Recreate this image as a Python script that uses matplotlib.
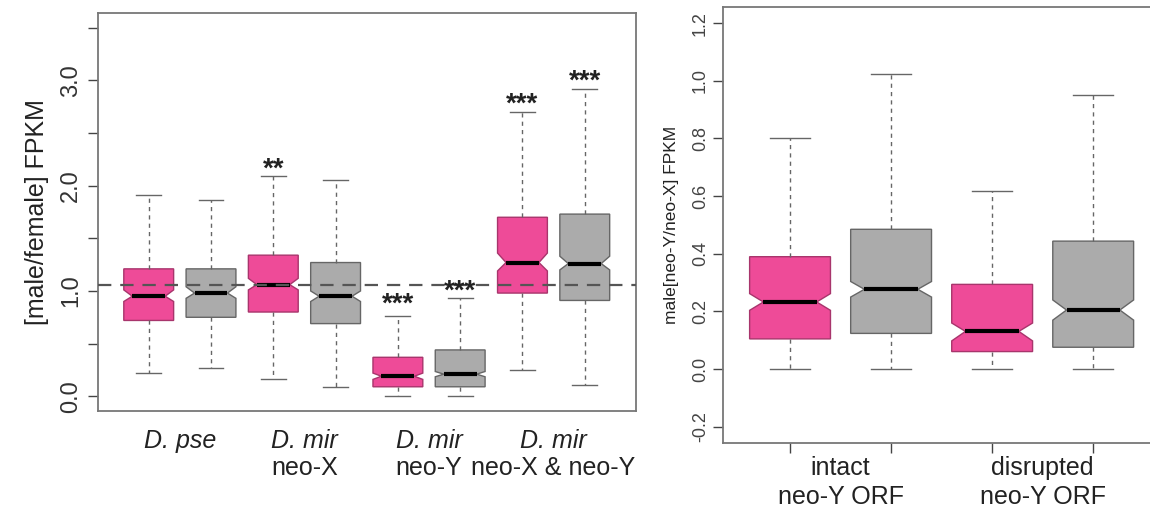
import matplotlib
matplotlib.use('Agg')
import matplotlib.pyplot as plt
import numpy as np

plt.rcParams['font.family'] = ['Liberation Sans', 'DejaVu Sans']

# 왼쪽 패널: [male/female] FPKM, 분홍/회색 쌍 4개
left_pos = [1, 2, 3, 4, 5, 6, 7, 8]
left_med = [0.95, 0.98, 1.06, 0.95, 0.19, 0.21, 1.27, 1.26]
left_q1 = [0.72, 0.75, 0.80, 0.69, 0.09, 0.09, 0.98, 0.91]
left_q3 = [1.21, 1.21, 1.34, 1.27, 0.37, 0.44, 1.70, 1.73]
left_lo = [0.22, 0.27, 0.16, 0.09, 0.0, 0.0, 0.25, 0.11]
left_hi = [1.91, 1.86, 2.09, 2.05, 0.76, 0.93, 2.70, 2.92]
left_cilo = [0.90, 0.93, 1.01, 0.90, 0.16, 0.185, 1.19, 1.20]
left_cihi = [1.01, 1.04, 1.12, 1.00, 0.22, 0.235, 1.36, 1.33]
left_ref = 1.06
left_groups = [('D. pse', ''), ('D. mir', 'neo-X'), ('D. mir', 'neo-Y'), ('D. mir', 'neo-X & neo-Y')]
star_pos = [3, 5, 6, 7, 8]
star_txt = ['**', '***', '***', '***', '***']
star_y = [2.086, 0.80, 0.924, 2.705, 2.924]

# 오른쪽 패널: male[neo-Y/neo-X] FPKM
right_pos = [1, 2, 3, 4]
right_med = [0.233, 0.277, 0.131, 0.205]
right_q1 = [0.105, 0.124, 0.061, 0.076]
right_q3 = [0.39, 0.485, 0.294, 0.444]
right_lo = [0.0, 0.0, 0.0, 0.0]
right_hi = [0.80, 1.025, 0.617, 0.951]
right_cilo = [0.204, 0.25, 0.098, 0.17]
right_cihi = [0.262, 0.304, 0.16, 0.24]
right_groups = ['intact\nneo-Y ORF', 'disrupted\nneo-Y ORF']

pink = '#EE4B98'
grey = '#ABABAB'
frame = '#777777'
BOXW = 0.8
WAIST = 0.33  # 노치 안쪽 반폭 (박스 폭 대비)


def make_stats(med, q1, q3, lo, hi, cilo, cihi):
    return [dict(med=m, q1=a, q3=b, whislo=l, whishi=h, cilo=c1, cihi=c2, fliers=[])
            for m, a, b, l, h, c1, c2 in zip(med, q1, q3, lo, hi, cilo, cihi)]


def draw_boxes(ax, stats, pos):
    bp = ax.bxp(stats, positions=pos, widths=BOXW, capwidths=BOXW / 2, shownotches=True,
                patch_artist=True, showfliers=False,
                whiskerprops=dict(color='#666666', lw=1, ls=(0, (3, 3))),
                capprops=dict(color='#666666', lw=1),
                medianprops=dict(color='black', lw=3, solid_capstyle='butt'))
    for i, (box, med, p) in enumerate(zip(bp['boxes'], bp['medians'], pos)):
        # 노치 허리를 조금 넓게
        v = box.get_path().vertices
        inner = np.abs(np.abs(v[:, 0] - p) - BOXW / 4) < 1e-9
        v[inner, 0] = p + np.sign(v[inner, 0] - p) * BOXW * WAIST
        med.set_xdata([p - BOXW * WAIST, p + BOXW * WAIST])
        if i % 2 == 0:
            box.set_facecolor(pink)
            box.set_edgecolor('#A8356C')
        else:
            box.set_facecolor(grey)
            box.set_edgecolor('#666666')
        box.set_linewidth(1)
    return bp


def style_axes(ax):
    for s in ax.spines.values():
        s.set_color(frame)
        s.set_linewidth(1.3)
    ax.tick_params(colors='#444444', length=7, width=1, direction='out')


fig = plt.figure(figsize=(11.5, 5.16), dpi=100)

# 왼쪽
ax1 = fig.add_axes([0.0849, 0.2035, 0.468, 0.7713])
draw_boxes(ax1, make_stats(left_med, left_q1, left_q3, left_lo, left_hi, left_cilo, left_cihi), left_pos)
ax1.axhline(left_ref, color='#555555', lw=1.6, ls=(0, (6, 4)), zorder=5)
ax1.set_xlim(0.18, 8.82)
ax1.set_ylim(-0.14, 3.64)
ax1.set_yticks([0, 0.5, 1, 1.5, 2, 2.5, 3, 3.5])
ax1.set_yticklabels(['0.0', '', '1.0', '', '2.0', '', '3.0', ''], rotation=90,
                    va='center', fontsize=17, color='#333333')
ax1.set_xticks([])
ax1.set_ylabel('[male/female] FPKM', fontsize=18, color='#222222', labelpad=8)
style_axes(ax1)
ax1.tick_params(axis='y', labelcolor='#333333', pad=4)

for i, (sp, sub) in enumerate(left_groups):
    x = 1.5 + 2 * i
    ax1.text(x, -0.075, sp, transform=ax1.get_xaxis_transform(), ha='center', va='center',
             fontsize=18, style='italic', color='#222222')
    if sub:
        ax1.text(x, -0.143, sub, transform=ax1.get_xaxis_transform(), ha='center', va='center',
                 fontsize=18, color='#222222')

for p, t, y in zip(star_pos, star_txt, star_y):
    ax1.text(p, y, t, ha='center', va='baseline', fontsize=20, fontweight='bold',
             color='#222222', zorder=6)

# 오른쪽
ax2 = fig.add_axes([0.629, 0.1415, 0.3796, 0.845])
draw_boxes(ax2, make_stats(right_med, right_q1, right_q3, right_lo, right_hi, right_cilo, right_cihi), right_pos)
ax2.set_xlim(0.34, 4.66)
ax2.set_ylim(-0.256, 1.256)
ax2.set_yticks([-0.2, 0, 0.2, 0.4, 0.6, 0.8, 1.0, 1.2])
ax2.set_yticklabels(['-0.2', '0.0', '0.2', '0.4', '0.6', '0.8', '1.0', '1.2'], rotation=90,
                    va='center', fontsize=13, color='#333333')
ax2.set_xticks(right_pos)
ax2.set_xticklabels([])
ax2.set_ylabel('male[neo-Y/neo-X] FPKM', fontsize=12.5, color='#222222', labelpad=9)
style_axes(ax2)

for i, lab in enumerate(right_groups):
    ax2.text(1.5 + 2 * i, -0.09, lab, transform=ax2.get_xaxis_transform(), ha='center', va='center',
             fontsize=18, color='#222222', linespacing=1.25)

fig.savefig('out.png', dpi=100)
